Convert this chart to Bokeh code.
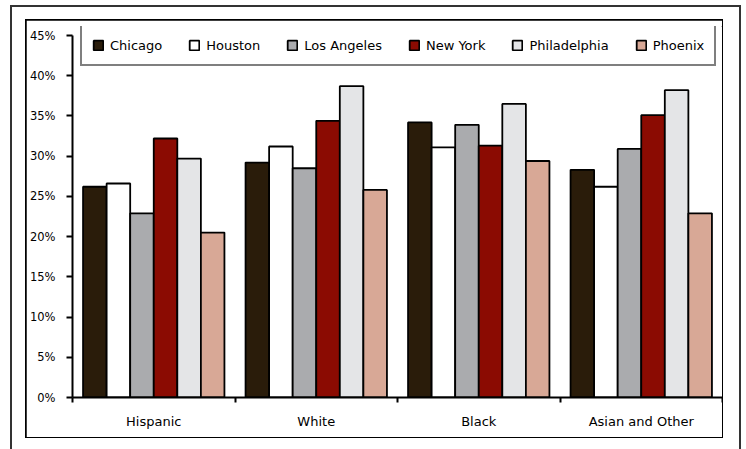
from bokeh.plotting import figure
from bokeh.models import Range1d, FixedTicker, Legend, LegendItem, ColumnDataSource
from bokeh.transform import dodge
from bokeh.embed import file_html
from bokeh.resources import INLINE

categories = ["Hispanic", "White", "Black", "Asian and Other"]
cities = ["Chicago", "Houston", "Los Angeles", "New York", "Philadelphia", "Phoenix"]
chicago = [26.2, 29.2, 34.2, 28.3]
houston = [26.6, 31.2, 31.1, 26.2]
los_angeles = [22.9, 28.5, 33.9, 30.9]
new_york = [32.2, 34.4, 31.3, 35.1]
philadelphia = [29.7, 38.7, 36.5, 38.2]
phoenix = [20.5, 25.8, 29.4, 22.9]
series = [chicago, houston, los_angeles, new_york, philadelphia, phoenix]
colors = ["#2a1c0a", "#ffffff", "#aaabae", "#8b0b02", "#e4e5e7", "#d8a896"]
y_ticks = [0, 5, 10, 15, 20, 25, 30, 35, 40, 45]
y_tick_labels = ["0%", "5%", "10%", "15%", "20%", "25%", "30%", "35%", "40%", "45%"]

FONT = "DejaVu Sans"
bar_w = 0.145

p = figure(width=696, height=417, output_backend="svg", toolbar_location=None,
           x_range=Range1d(0, len(categories)), y_range=Range1d(0, 46.12),
           min_border_left=46, min_border_right=0, min_border_top=6,
           min_border_bottom=40)
p.margin = (20, 0, 0, 26)
p.styles = {
    "outline": "2px solid black",
    "outline-offset": "-1px",
    "box-shadow": "1.5px 2.5px 0 15.5px white, 1.5px 2.5px 0 17.5px #333333",
}
p.outline_line_color = None
p.background_fill_color = "white"
p.border_fill_color = "white"
p.xgrid.visible = False
p.ygrid.visible = False

data = {"x": [i + 0.5 for i in range(len(categories))]}
for name, vals in zip(cities, series):
    data[name] = vals
src = ColumnDataSource(data)

items = []
n = len(cities)
for k, (name, col) in enumerate(zip(cities, colors)):
    r = p.vbar(x=dodge("x", (k - (n - 1) / 2) * bar_w, range=p.x_range), top=name,
               width=bar_w, source=src, fill_color=col, line_color="black",
               line_width=1.8)
    items.append(LegendItem(label=name, renderers=[r]))

legend = Legend(items=items, orientation="horizontal", location=(8, 331),
                border_line_color="black", border_line_width=2,
                padding=10, spacing=26, glyph_width=12, glyph_height=12,
                label_standoff=6, label_height=18,
                label_text_font=FONT, label_text_font_size="13px",
                label_text_color="black", background_fill_alpha=1.0, margin=0)
p.add_layout(legend, "center")

# x axis: boundary ticks as minor ticks, category names at the group centres
xa = p.xaxis[0]
xa.ticker = FixedTicker(ticks=[i + 0.5 for i in range(len(categories))],
                        minor_ticks=list(range(len(categories) + 1)))
xa.major_label_overrides = {i + 0.5: c for i, c in enumerate(categories)}
xa.major_tick_out = 0
xa.major_tick_in = 0
xa.minor_tick_out = 5
xa.minor_tick_in = 0
xa.minor_tick_line_color = "black"
xa.minor_tick_line_width = 2
xa.axis_line_color = "black"
xa.axis_line_width = 2
xa.major_label_standoff = 11
xa.major_label_text_font = FONT
xa.major_label_text_font_size = "13px"
xa.major_label_text_color = "black"

# y axis
ya = p.yaxis[0]
ya.bounds = (y_ticks[0], y_ticks[-1])
ya.ticker = FixedTicker(ticks=y_ticks, minor_ticks=[])
ya.major_label_overrides = dict(zip(y_ticks, y_tick_labels))
ya.major_tick_out = 6
ya.major_tick_in = 0
ya.major_tick_line_color = "black"
ya.major_tick_line_width = 2
ya.axis_line_color = "black"
ya.axis_line_width = 2
ya.major_label_standoff = 11
ya.major_label_text_font = FONT
ya.major_label_text_font_size = "11.5px"
ya.major_label_text_color = "black"

open("out.html", "w").write(file_html(p, INLINE))
